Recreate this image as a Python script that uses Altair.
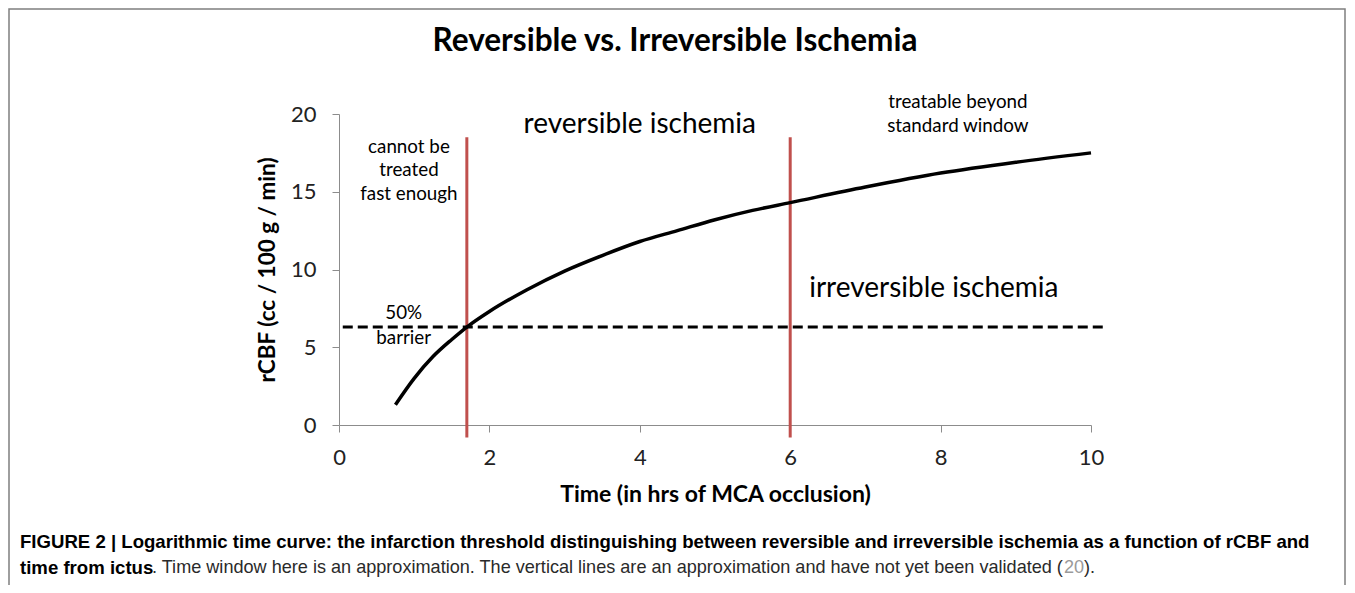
import altair as alt
import pandas as pd

# ---- data ----
curve_t = [0.75, 1.0, 1.25, 1.5, 1.7, 2.0, 2.5, 3.0, 3.5, 4.0, 4.5, 5.0, 5.5, 6.0, 7.0, 8.0, 9.0, 10.0]
curve_cbf = [1.3, 3.0, 4.4, 5.5, 6.3, 7.3, 8.7, 9.9, 10.9, 11.8, 12.5, 13.2, 13.8, 14.3, 15.3, 16.2, 16.9, 17.5]

barrier_level = 6.3
barrier_start = 0.05
barrier_end = 10.22

window_lines = [1.7, 6.0]
window_bottom = -0.8
window_top = 18.5

x_ticks = [0, 2, 4, 6, 8, 10]
y_ticks = [0, 5, 10, 15, 20]

big_labels = ["reversible ischemia", "irreversible ischemia"]
big_t = [4.0, 7.91]
big_v = [19.3, 8.75]

small_labels = ["cannot be", "treated", "fast enough", "treatable beyond", "standard window", "50%", "barrier"]
small_t = [0.93, 0.93, 0.93, 8.23, 8.23, 0.86, 0.86]
small_v = [17.88, 16.4, 14.86, 20.77, 19.23, 7.2, 5.6]

title_text = "Reversible vs. Irreversible Ischemia"
x_title = "Time (in hrs of MCA occlusion)"
y_title = "rCBF (cc / 100 g / min)"

cap_line1 = ("FIGURE 2 | Logarithmic time curve: the infarction threshold distinguishing between "
             "reversible and irreversible ischemia as a function of rCBF and")
cap_line2_bold = "time from ictus"
cap_line2_normal = ". Time window here is an approximation. The vertical lines are an approximation and have not yet been validated ("
cap_ref = "20"
cap_end = ")."

CAL = "Lato"
CAP = "Liberation Sans"

xs = alt.Scale(domain=[0, 10], nice=False)
ys = alt.Scale(domain=[0, 20], nice=False)

one = pd.DataFrame({"a": [0]})

frame = alt.Chart(one).mark_rect(fillOpacity=0, stroke="#7f7f7f", strokeWidth=1.5).encode(
    x=alt.value(-330), x2=alt.value(1006), y=alt.value(-105), y2=alt.value(700)
)

curve_df = pd.DataFrame({"t": curve_t, "v": curve_cbf})
curve = alt.Chart(curve_df).mark_line(color="black", strokeWidth=3.5, interpolate="monotone").encode(
    x=alt.X("t:Q", scale=xs,
            axis=alt.Axis(values=x_ticks, format="d", title=x_title, grid=False, domainColor="#8c8c8c",
                          tickColor="#8c8c8c", tickSize=7, labelFontSize=22, labelFont=CAL,
                          labelColor="#222222", labelPadding=15, titleFont=CAL, titleFontSize=23,
                          titleFontWeight="bold", titleColor="black", titlePadding=15,
                          labelFlush=False)),
    y=alt.Y("v:Q", scale=ys,
            axis=alt.Axis(values=y_ticks, title=y_title, grid=False, domainColor="#8c8c8c",
                          tickColor="#8c8c8c", tickSize=7, labelFontSize=22, labelFont=CAL,
                          labelColor="#222222", labelPadding=16, titleFont=CAL, titleFontSize=22.5,
                          titleFontWeight="bold", titleColor="black", titlePadding=11)),
)

barrier_df = pd.DataFrame({"x1": [barrier_start], "x2": [barrier_end], "y": [barrier_level]})
barrier = alt.Chart(barrier_df).mark_rule(color="black", strokeWidth=3, strokeDash=[10, 5]).encode(
    x=alt.X("x1:Q", scale=xs), x2="x2:Q", y=alt.Y("y:Q", scale=ys)
)

win_df = pd.DataFrame({"t": window_lines, "y1": [window_bottom] * 2, "y2": [window_top] * 2})
windows = alt.Chart(win_df).mark_rule(color="#c0504d", strokeWidth=3).encode(
    x=alt.X("t:Q", scale=xs), y=alt.Y("y1:Q", scale=ys), y2="y2:Q"
)

big_df = pd.DataFrame({"label": big_labels, "t": big_t, "v": big_v})
big = alt.Chart(big_df).mark_text(font=CAL, fontSize=28, color="black", baseline="middle", align="center").encode(
    x=alt.X("t:Q", scale=xs), y=alt.Y("v:Q", scale=ys), text="label:N"
)

small_df = pd.DataFrame({"label": small_labels, "t": small_t, "v": small_v})
small = alt.Chart(small_df).mark_text(font=CAL, fontSize=18.8, color="black", baseline="middle", align="center").encode(
    x=alt.X("t:Q", scale=xs), y=alt.Y("v:Q", scale=ys), text="label:N"
)

title = alt.Chart(pd.DataFrame({"s": [title_text]})).mark_text(
    font=CAL, fontSize=31.5, fontWeight="bold", color="black", baseline="middle", align="center"
).encode(x=alt.value(336), y=alt.value(-72), text="s:N")

cap1 = alt.Chart(pd.DataFrame({"s": [cap_line1]})).mark_text(
    font=CAP, fontSize=18.6, fontWeight="bold", color="black", baseline="middle", align="left"
).encode(x=alt.value(-319), y=alt.value(427.5), text="s:N")

cap2a = alt.Chart(pd.DataFrame({"s": [cap_line2_bold]})).mark_text(
    font=CAP, fontSize=18.6, fontWeight="bold", color="black", baseline="middle", align="left"
).encode(x=alt.value(-319), y=alt.value(453.5), text="s:N")

cap2b = alt.Chart(pd.DataFrame({"s": [cap_line2_normal]})).mark_text(
    font=CAP, fontSize=18.1, color="#2a2a2a", baseline="middle", align="left"
).encode(x=alt.value(-187), y=alt.value(453.5), text="s:N")

cap2c = alt.Chart(pd.DataFrame({"s": [cap_ref]})).mark_text(
    font=CAP, fontSize=18.1, color="#9a9a9a", baseline="middle", align="left"
).encode(x=alt.value(725), y=alt.value(453.5), text="s:N")

cap2d = alt.Chart(pd.DataFrame({"s": [cap_end]})).mark_text(
    font=CAP, fontSize=18.1, color="#2a2a2a", baseline="middle", align="left"
).encode(x=alt.value(745), y=alt.value(453.5), text="s:N")

chart = alt.layer(frame, windows, barrier, curve, big, small, title, cap1, cap2a, cap2b, cap2c, cap2d).properties(
    width=752, height=311,
    autosize=alt.AutoSizeParams(type="none"),
    padding={"left": 331, "top": 106, "right": 256, "bottom": 160},
    background="white",
).configure_view(strokeWidth=0)

chart.save("out.html", embed_options={"renderer": "svg", "actions": False})
